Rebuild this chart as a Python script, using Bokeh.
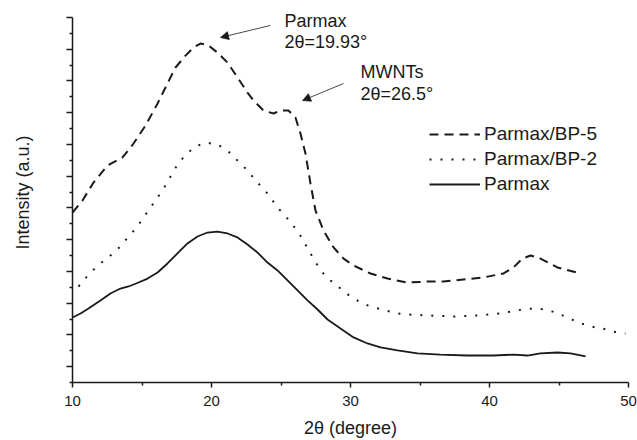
from bokeh.plotting import figure
from bokeh.models import (FixedTicker, Legend, LegendItem, Label, Arrow, NormalHead,
                          CustomJSTickFormatter, Range1d)
from bokeh.embed import file_html
from bokeh.resources import INLINE

# ---- data ----
bp5_x = [10.0, 10.72, 11.51, 12.52, 13.60, 14.39, 15.25, 16.12, 16.83, 17.41, 18.13, 18.71,
         19.21, 19.78, 20.43, 21.15, 21.87, 22.59, 23.02, 23.74, 24.46, 24.96, 25.54, 26.04,
         26.40, 26.76, 27.12, 27.48, 28.06, 28.78, 29.50, 30.22, 31.44, 32.66, 34.10, 35.54,
         36.69, 38.13, 39.57, 41.01, 41.73, 42.37, 42.95, 43.67, 44.89, 46.55]
bp5_y = [10.71, 11.47, 12.60, 13.67, 14.18, 15.06, 16.19, 17.58, 18.84, 19.85, 20.60, 21.11,
         21.36, 21.24, 20.79, 20.16, 19.22, 18.27, 17.77, 17.14, 16.95, 17.14, 17.14, 16.70,
         15.69, 14.43, 12.54, 10.84, 9.58, 8.51, 7.81, 7.37, 6.87, 6.55, 6.30, 6.36,
         6.36, 6.49, 6.62, 6.87, 7.25, 7.81, 8.00, 7.81, 7.25, 6.87]

bp2_x = [10.43, 11.22, 12.01, 12.73, 13.45, 14.03, 14.68, 15.11, 16.12, 16.83, 17.27, 17.91,
         18.71, 19.57, 20.43, 21.15, 21.87, 22.59, 23.31, 24.03, 24.75, 25.47, 26.04, 26.55,
         26.91, 27.34, 27.84, 28.56, 29.28, 30.00, 30.86, 31.65, 32.52, 33.38, 34.17, 35.76,
         37.41, 38.99, 39.86, 40.79, 41.51, 42.37, 43.17, 44.03, 44.75, 45.61, 46.40, 47.27,
         48.13, 48.92, 49.78]
bp2_y = [6.05, 6.87, 7.50, 8.00, 8.57, 9.20, 9.83, 10.40, 11.66, 12.60, 13.36, 14.11,
         14.81, 15.12, 15.00, 14.62, 13.99, 13.36, 12.60, 11.91, 11.03, 10.33, 9.70, 9.07,
         8.44, 7.81, 7.06, 6.43, 5.92, 5.42, 4.98, 4.73, 4.54, 4.35, 4.28, 4.22,
         4.16, 4.22, 4.28, 4.35, 4.47, 4.60, 4.66, 4.60, 4.41, 4.10, 3.78, 3.53,
         3.40, 3.21, 3.09]

parmax_x = [10.00, 10.58, 11.15, 12.01, 12.73, 13.45, 14.03, 14.75, 15.40, 16.12, 16.83, 17.55,
            18.27, 18.99, 19.71, 20.43, 21.15, 21.87, 22.59, 23.31, 24.03, 24.75, 25.47, 26.19,
            26.91, 27.63, 28.35, 29.28, 30.22, 31.22, 32.16, 33.38, 34.82, 36.47, 38.42, 40.29,
            41.73, 42.73, 43.67, 44.89, 45.83, 46.91]
parmax_y = [4.10, 4.35, 4.66, 5.17, 5.61, 5.92, 6.05, 6.30, 6.55, 6.93, 7.50, 8.13,
            8.76, 9.20, 9.45, 9.51, 9.39, 9.14, 8.70, 8.19, 7.56, 7.06, 6.43, 5.80,
            5.17, 4.60, 3.97, 3.40, 2.84, 2.46, 2.21, 2.02, 1.83, 1.76, 1.70, 1.70,
            1.76, 1.70, 1.83, 1.89, 1.83, 1.64]

x_ticks = [10, 20, 30, 40, 50]
x_minor = [15, 25, 35, 45]
y_ticks = [1, 3, 5, 7, 9, 11, 13, 15, 17, 19, 21, 23]
y_minor = [0, 2, 4, 6, 8, 10, 12, 14, 16, 18, 20, 22]

series_labels = ["Parmax/BP-5", "Parmax/BP-2", "Parmax"]

peak1_text = ["Parmax", "2\u03b8=19.93\u00b0"]
peak2_text = ["MWNTs", "2\u03b8=26.5\u00b0"]

FONT = "Liberation Sans"
INK = "#1a1a1a"

p = figure(width=637, height=440, output_backend="svg", toolbar_location=None,
           x_range=Range1d(10, 50), y_range=Range1d(0, 23.945),
           min_border_left=72, min_border_right=9, min_border_top=2, min_border_bottom=58)
p.outline_line_color = None
p.xgrid.visible = False
p.ygrid.visible = False
p.background_fill_color = "white"
p.border_fill_color = "white"

r1 = p.line(bp5_x, bp5_y, line_color=INK, line_width=2, line_dash="9 6")
r2 = p.line(bp2_x, bp2_y, line_color=INK, line_width=2, line_dash="2 9")
r3 = p.line(parmax_x, parmax_y, line_color=INK, line_width=1.8)

# axes
xa = p.xaxis[0]
xa.ticker = FixedTicker(ticks=x_ticks, minor_ticks=x_minor)
xa.axis_label = "2\u03b8 (degree)"
xa.axis_label_text_font = FONT
xa.axis_label_text_font_style = "normal"
xa.axis_label_text_font_size = "18px"
xa.axis_label_text_color = INK
xa.axis_label_standoff = 9
xa.major_label_text_font = FONT
xa.major_label_text_font_size = "15px"
xa.major_label_text_color = INK
xa.major_label_standoff = 8
xa.axis_line_width = 1.5
xa.axis_line_color = INK
xa.major_tick_in = 0
xa.major_tick_out = 5
xa.minor_tick_in = 0
xa.minor_tick_out = 3
xa.major_tick_line_width = 1.5
xa.minor_tick_line_width = 1.5
xa.major_tick_line_color = INK
xa.minor_tick_line_color = INK

ya = p.yaxis[0]
ya.ticker = FixedTicker(ticks=y_ticks, minor_ticks=y_minor)
ya.formatter = CustomJSTickFormatter(code="return ''")
ya.bounds = (0, 23)
ya.axis_label = "Intensity (a.u.)"
ya.axis_label_text_font = FONT
ya.axis_label_text_font_style = "normal"
ya.axis_label_text_font_size = "18px"
ya.axis_label_text_color = INK
ya.axis_label_standoff = 34
ya.major_label_standoff = 0
ya.axis_line_width = 1.5
ya.axis_line_color = INK
ya.major_tick_in = 0
ya.major_tick_out = 6
ya.minor_tick_in = 0
ya.minor_tick_out = 3
ya.major_tick_line_width = 1.5
ya.minor_tick_line_width = 1.5
ya.major_tick_line_color = INK
ya.minor_tick_line_color = INK

# legend
legend = Legend(items=[LegendItem(label=series_labels[0], renderers=[r1]),
                       LegendItem(label=series_labels[1], renderers=[r2]),
                       LegendItem(label=series_labels[2], renderers=[r3])],
                location=(357, 187), orientation="vertical",
                glyph_width=51, glyph_height=20, label_height=20, label_standoff=4,
                spacing=3, padding=0, margin=0,
                border_line_color=None, background_fill_alpha=0,
                label_text_font=FONT, label_text_font_size="19px", label_text_color=INK)
p.add_layout(legend, "center")

# annotations
def add_label(x, y, txt):
    p.add_layout(Label(x=x, y=y, text=txt, text_font=FONT, text_font_size="18px",
                       text_color=INK, text_baseline="middle", text_align="left"))

add_label(25.25, 22.8, peak1_text[0])
add_label(25.25, 21.45, peak1_text[1])
add_label(30.72, 19.55, peak2_text[0])
add_label(30.72, 18.2, peak2_text[1])

p.add_layout(Arrow(x_start=24.24, y_start=22.5, x_end=20.65, y_end=21.74,
                   line_color=INK, line_width=0.8,
                   end=NormalHead(size=8, fill_color=INK, line_color=INK, line_width=0.8)))
p.add_layout(Arrow(x_start=29.50, y_start=18.84, x_end=26.55, y_end=17.77,
                   line_color=INK, line_width=0.8,
                   end=NormalHead(size=8, fill_color=INK, line_color=INK, line_width=0.8)))

open("out.html", "w").write(file_html(p, INLINE))
